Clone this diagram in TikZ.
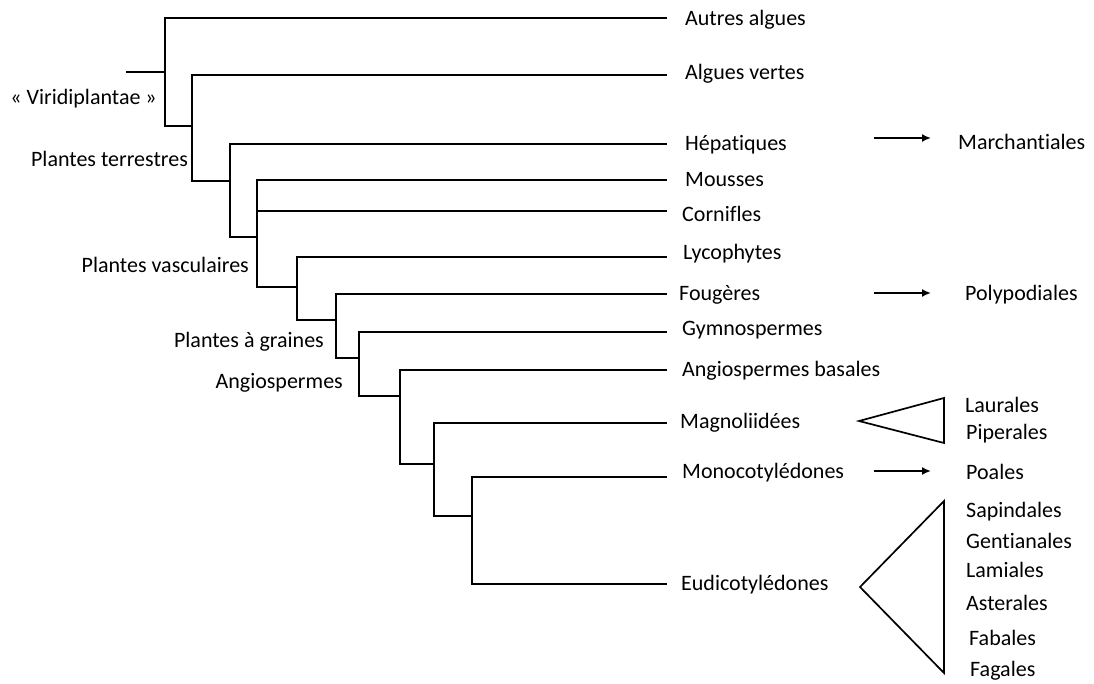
\documentclass[tikz,border=0pt]{standalone}
\usepackage{fontspec}
\setmainfont[Ligatures=NoCommon]{Carlito}
\usetikzlibrary{arrows.meta}
\begin{document}
\begin{tikzpicture}[x=1pt,y=-1pt,
  br/.style={line width=1.7pt, line cap=rect},
  lab/.style={font=\fontsize{22}{25}\selectfont, inner sep=0pt, anchor=west, yshift=-1.5pt},
  clade/.style={font=\fontsize{22}{25}\selectfont, inner sep=0pt, anchor=east, yshift=-1.5pt},
  arr/.style={line width=1.7pt, -{Latex[length=9pt,width=8pt]}},
  tri/.style={line width=1.7pt, line join=miter}]
\useasboundingbox (0,0) rectangle (1094,684);
% inner nodes
\coordinate (s0) at (127,72);
\coordinate (n0) at (165,72);
\coordinate (n1) at (192,126);
\coordinate (n2) at (230,181);
\coordinate (n3) at (257,237);
\coordinate (n4) at (297,287);
\coordinate (n5) at (336,320);
\coordinate (n6) at (359,358);
\coordinate (n7) at (400,396);
\coordinate (n8) at (434,464);
\coordinate (n9) at (472,516);
% tips
\coordinate (tA) at (666,18);
\coordinate (tB) at (666,75);
\coordinate (tHep) at (666,144);
\coordinate (tMou) at (666,180);
\coordinate (tCor) at (666,211);
\coordinate (tLyc) at (666,257);
\coordinate (tFou) at (666,294);
\coordinate (tGym) at (666,332);
\coordinate (tAB) at (666,370);
\coordinate (tMag) at (666,423);
\coordinate (tMon) at (666,477);
\coordinate (tEud) at (666,584);
% branches
\draw[br] (s0) -- (n0);
\draw[br] (n0) |- (tA);
\draw[br] (n0) |- (n1);
\draw[br] (n1) |- (tB);
\draw[br] (n1) |- (n2);
\draw[br] (n2) |- (tHep);
\draw[br] (n2) |- (n3);
\draw[br] (n3) |- (tMou);
\draw[br] (n3) |- (tCor);
\draw[br] (n3) |- (n4);
\draw[br] (n4) |- (tLyc);
\draw[br] (n4) |- (n5);
\draw[br] (n5) |- (tFou);
\draw[br] (n5) |- (n6);
\draw[br] (n6) |- (tGym);
\draw[br] (n6) |- (n7);
\draw[br] (n7) |- (tAB);
\draw[br] (n7) |- (n8);
\draw[br] (n8) |- (tMag);
\draw[br] (n8) |- (n9);
\draw[br] (n9) |- (tMon);
\draw[br] (n9) |- (tEud);
% tip labels
\node[lab] (lA) at (685,18) {Autres algues};
\node[lab] (lB) at (685,72) {Algues vertes};
\node[lab] (lHep) at (685,143) {Hépatiques};
\node[lab] (lMou) at (685,178) {Mousses};
\node[lab] (lCor) at (682,212) {Cornifles};
\node[lab] (lLyc) at (683,252) {Lycophytes};
\node[lab] (lFou) at (679,293) {Fougères};
\node[lab] (lGym) at (682,329) {Gymnospermes};
\node[lab] (lAB) at (682,369) {Angiospermes basales};
\node[lab] (lMag) at (680,421) {Magnoliidées};
\node[lab] (lMon) at (682,471) {Monocotylédones};
\node[lab] (lEud) at (681,583) {Eudicotylédones};
% clade labels
\node[clade] (cV) at (157,97) {« Viridiplantae »};
\node[clade] (cT) at (188,157) {Plantes terrestres};
\node[clade] (cVa) at (249,263) {Plantes vasculaires};
\node[clade] (cG) at (324,340) {Plantes à graines};
\node[clade] (cAn) at (343,381) {Angiospermes};
% arrows
\coordinate (a1s) at (874,138); \coordinate (a1e) at (931,138);
\coordinate (a2s) at (874,293); \coordinate (a2e) at (931,293);
\coordinate (a3s) at (874,471); \coordinate (a3e) at (931,471);
\draw[arr] (a1s) -- (a1e);
\draw[arr] (a2s) -- (a2e);
\draw[arr] (a3s) -- (a3e);
\node[lab] (rMar) at (958,140) {Marchantiales};
\node[lab] (rPol) at (965,293) {Polypodiales};
\node[lab] (rPoa) at (966,470) {Poales};
% triangles
\draw[tri] (859,421) -- (944,398) -- (944,443) -- cycle;
\draw[tri] (860,587) -- (944,501) -- (944,673) -- cycle;
\node[lab] (rLau) at (965,403) {Laurales};
\node[lab] (rPip) at (966,432) {Piperales};
\node[lab] (rSap) at (966,510) {Sapindales};
\node[lab] (rGen) at (966,539) {Gentianales};
\node[lab] (rLam) at (966,568) {Lamiales};
\node[lab] (rAst) at (966,601) {Asterales};
\node[lab] (rFab) at (969,636) {Fabales};
\node[lab] (rFag) at (970,669) {Fagales};
\end{tikzpicture}
\end{document}
